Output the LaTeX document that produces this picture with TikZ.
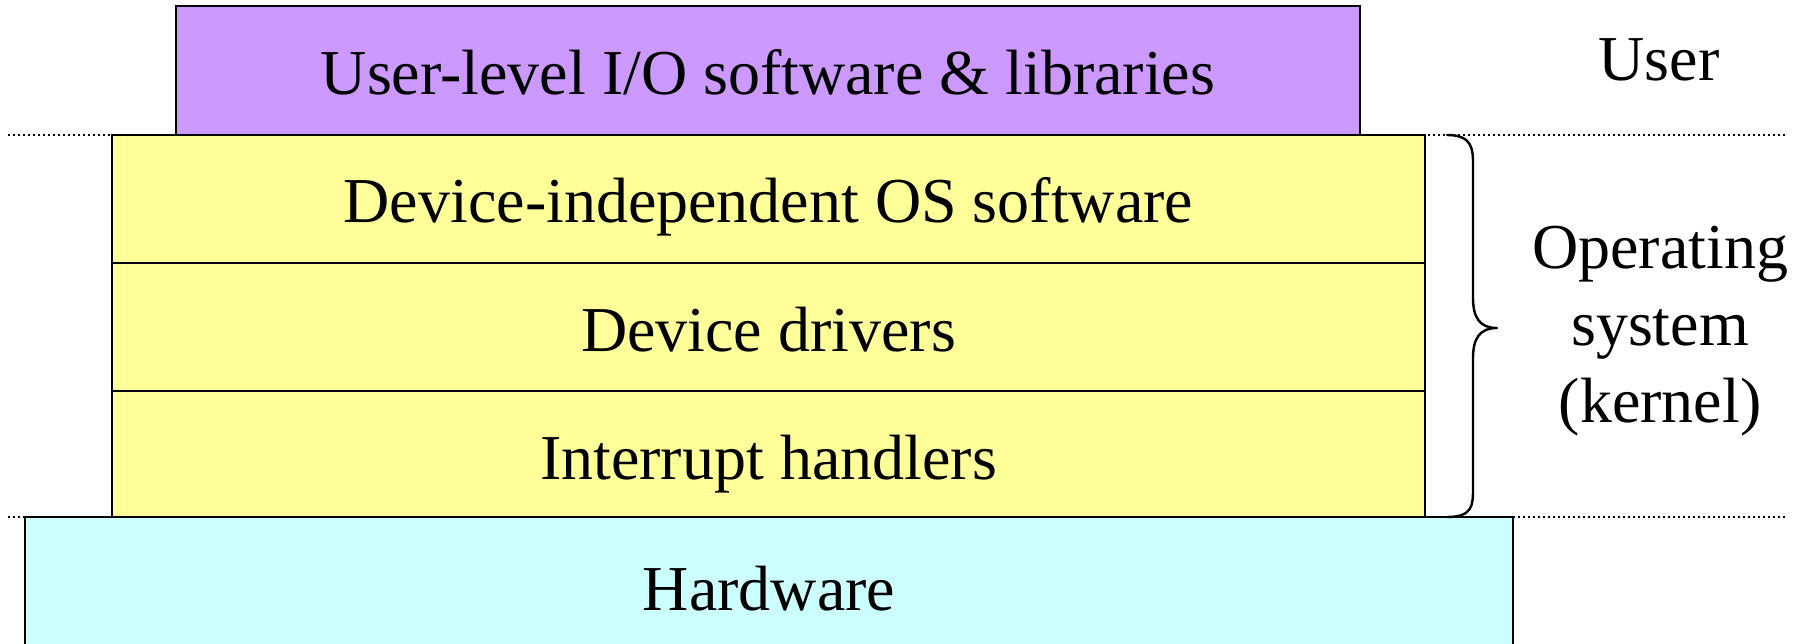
\documentclass[tikz,border=0pt]{standalone}
\usepackage{fontspec}
\setmainfont{Liberation Serif}
\definecolor{userfill}{HTML}{CC99FF}
\definecolor{osfill}{HTML}{FFFF99}
\definecolor{hwfill}{HTML}{CCFFFF}
\begin{document}
\begin{tikzpicture}[x=1pt,y=-1pt,
  layer/.style={draw=black, line width=2.2pt, inner sep=0pt,
    minimum height=128pt, text height=48pt, text depth=0pt,
    font=\fontsize{64}{76}\selectfont},
  boundary/.style={line width=1.6pt, dash pattern=on 1.6pt off 3.4pt},
  bracepath/.style={line width=2.4pt, line cap=round, line join=round},
  sidelabel/.style={inner sep=0pt, align=center,
    font=\fontsize{64}{77}\selectfont}]
\useasboundingbox (0,0) rectangle (1806,644);

% boundary coordinates for the privilege levels
\coordinate (ub0) at (8,135);
\coordinate (ub1) at (1785,135);
\coordinate (kb0) at (8,517);
\coordinate (kb1) at (1785,517);
\draw[boundary] (ub0) -- (ub1);
\draw[boundary] (kb0) -- (kb1);

% the layered stack
\node[layer, fill=userfill, minimum width=1184pt, minimum height=129pt]
  (ulib) at (768,70.5) {User-level I/O software \& libraries};
\node[layer, fill=osfill, minimum width=1313pt] (devind) at (768.5,199)
  {Device-independent OS software};
\node[layer, fill=osfill, minimum width=1313pt] (drivers) at (768.5,327)
  {Device drivers};
\node[layer, fill=osfill, minimum width=1313pt] (irq) at (768.5,455)
  {Interrupt handlers};
\node[layer, fill=hwfill, minimum width=1488pt, minimum height=133pt,
  text height=53pt] (hw) at (769,583.5) {Hardware};

% curly brace over the kernel layers
\coordinate (bt) at (1447,135);
\coordinate (bb) at (1447,517);
\coordinate (tip) at (1497,328);
\draw[bracepath] (bt) .. controls (1473,135) and (1473,150) .. (1473,165)
  -- (1473,298) .. controls (1473,318) and (1480,328) .. (tip)
  .. controls (1480,328) and (1473,338) .. (1473,358)
  -- (1473,488) .. controls (1473,505) and (1473,517) .. (bb);

% side labels
\node[sidelabel, anchor=base] (userlbl) at (1659,80.5) {User};
\node[sidelabel] (oslbl) at (1660,331) {Operating\\system\\(kernel)};
\end{tikzpicture}
\end{document}
